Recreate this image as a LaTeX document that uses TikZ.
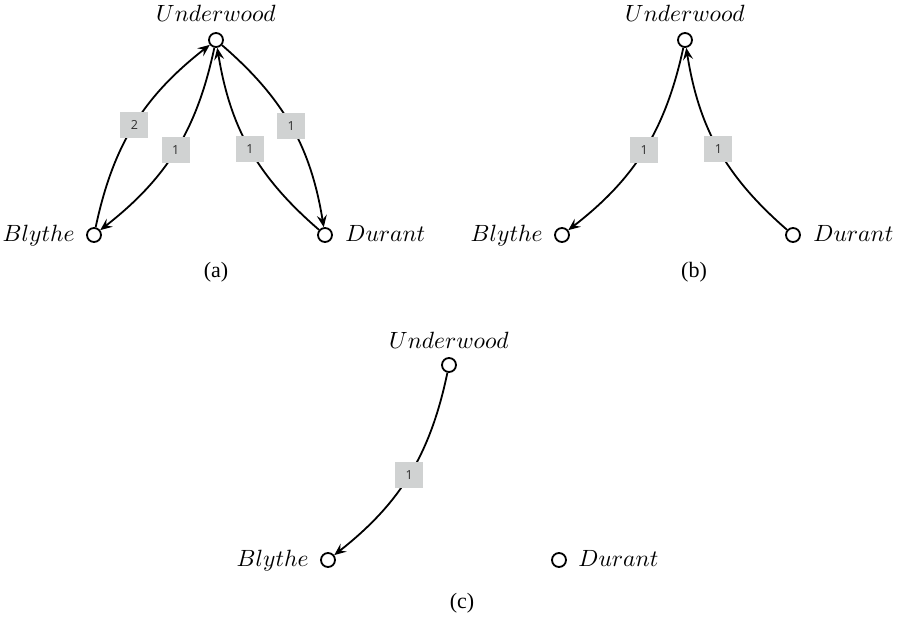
\documentclass[tikz,border=0pt]{standalone}
\usepackage{fontspec}
\newfontfamily\capfont{Liberation Serif}
\newfontfamily\wfont{Open Sans}
\usetikzlibrary{arrows.meta}
\definecolor{boxgray}{RGB}{208,210,210}
\definecolor{digit}{RGB}{45,45,45}
\tikzset{
  vtx/.style={circle, draw, line width=1.8pt, minimum size=14pt, inner sep=0pt},
  vname/.style={inner sep=0pt, scale=2.35},
  capt/.style={inner sep=0pt, font=\capfont\fontsize{22}{26}\selectfont},
  wlab/.style={fill=boxgray, text=digit, minimum width=28pt, minimum height=26pt, inner sep=0pt, font=\wfont\fontsize{12.5}{14}\selectfont},
  edge/.style={line width=1.8pt, -{Stealth[length=12pt,width=10pt,inset=4.5pt]}},
}
\begin{document}
\begin{tikzpicture}[x=1pt, y=-1pt]
\useasboundingbox (0,0) rectangle (897,618);
% ---------- (a) ----------
\node[vtx] (aU) at (216,40) {};
\node[vtx] (aB) at (94,235) {};
\node[vtx] (aD) at (325,235) {};
\node[vname, anchor=base] (aUt) at ([yshift=18pt]aU.center) {$Underwood$};
\node[vname, anchor=base east] (aBt) at ([xshift=-19pt,yshift=-6pt]aB.center) {$Blythe$};
\node[vname, anchor=base west] (aDt) at ([xshift=20pt,yshift=-6pt]aD.center) {$Durant$};
\node[capt] (acap) at (216,272.5) {(a)};
\draw[edge] (aB) to[bend left=20] node[wlab] (aw1) {2} (aU);
\draw[edge] (aU) to[bend left=20] node[wlab] (aw2) {1} (aB);
\draw[edge] (aD) to[bend left=20] node[wlab] (aw3) {1} (aU);
\draw[edge] (aU) to[bend left=20] node[wlab] (aw4) {1} (aD);
% ---------- (b) ----------
\node[vtx] (bU) at (685,40) {};
\node[vtx] (bB) at (562,235) {};
\node[vtx] (bD) at (793,235) {};
\node[vname, anchor=base] (bUt) at ([yshift=18pt]bU.center) {$Underwood$};
\node[vname, anchor=base east] (bBt) at ([xshift=-19pt,yshift=-6pt]bB.center) {$Blythe$};
\node[vname, anchor=base west] (bDt) at ([xshift=20pt,yshift=-6pt]bD.center) {$Durant$};
\node[capt] (bcap) at (694,272.5) {(b)};
\draw[edge] (bU) to[bend left=20] node[wlab] (bw1) {1} (bB);
\draw[edge] (bD) to[bend left=20] node[wlab] (bw2) {1} (bU);
% ---------- (c) ----------
\node[vtx] (cU) at (449,365) {};
\node[vtx] (cB) at (328,560) {};
\node[vtx] (cD) at (559,560) {};
\node[vname, anchor=base] (cUt) at ([yshift=17pt]cU.center) {$Underwood$};
\node[vname, anchor=base east] (cBt) at ([xshift=-19pt,yshift=-6pt]cB.center) {$Blythe$};
\node[vname, anchor=base west] (cDt) at ([xshift=19pt,yshift=-6pt]cD.center) {$Durant$};
\node[capt] (ccap) at (462,603) {(c)};
\draw[edge] (cU) to[bend left=20] node[wlab] (cw1) {1} (cB);
\end{tikzpicture}
\end{document}
